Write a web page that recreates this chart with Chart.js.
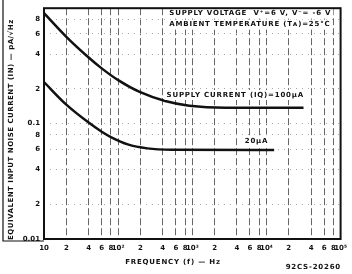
<!DOCTYPE html>
<html>
<head>
<meta charset="utf-8">
<script src="https://cdn.jsdelivr.net/npm/chart.js@4.4.1/dist/chart.umd.min.js"></script>
<style>
  html, body { margin: 0; padding: 0; background: #fff; }
  #wrap { width: 352px; height: 274px; }
</style>
</head>
<body>
<div id="wrap"><canvas id="noiseChart" width="352" height="274"></canvas></div>
<script>
// Data (Hz, pA/sqrt(Hz))
const freq100 = [10, 20, 40, 60, 100, 195, 430, 910, 2800, 31600];
const noise100 = [0.906, 0.565, 0.374, 0.301, 0.238, 0.188, 0.157, 0.143, 0.137, 0.137];
const freq20 = [10, 20, 40, 60, 81, 135, 248, 525, 12700];
const noise20 = [0.229, 0.146, 0.102, 0.085, 0.076, 0.066, 0.061, 0.0594, 0.059];

// Tick values and labels
const xTicks = [10, 20, 40, 60, 80, 100, 200, 400, 600, 800, 1000, 2000, 4000, 6000, 8000,
                10000, 20000, 40000, 60000, 80000, 100000];
const xLabels = ["10", "2", "4", "6", "8", "10²", "2", "4", "6", "8", "10³", "2", "4", "6", "8",
                 "10⁴", "2", "4", "6", "8", "10⁵"];
const yTicks = [0.01, 0.02, 0.04, 0.06, 0.08, 0.1, 0.2, 0.4, 0.6, 0.8, 1];
const yLabels = ["0.01", "2", "4", "6", "8", "0.1", "2", "4", "6", "8", ""];

const FONT = "bold 7px 'DejaVu Sans'";

function toPts(xs, ys) {
    return xs.map((x, i) => ({ x: x, y: ys[i] }));
}

// white box behind a note, then the note
function note(ctx, text, x, y) {
    const w = ctx.measureText(text).width;
    ctx.fillStyle = "#fff";
    ctx.fillRect(x - 2, y - 5, w + 4, 10);
    ctx.fillStyle = "#111";
    ctx.fillText(text, x, y);
}

// Frame, titles and notes drawn on top
const notesPlugin = {
    id: "notes",
    afterDraw(chart) {
        const ctx = chart.ctx;
        const a = chart.chartArea;
        const xs = chart.scales.x, ys = chart.scales.y;
        ctx.save();

        ctx.font = FONT;
        ctx.letterSpacing = "0.8px";
        ctx.textBaseline = "middle";
        ctx.textAlign = "left";
        note(ctx, "SUPPLY VOLTAGE  V⁺=6 V, V⁻= -6 V", xs.getPixelForValue(490), ys.getPixelForValue(0.9));
        note(ctx, "AMBIENT TEMPERATURE (Tᴀ)=25°C", xs.getPixelForValue(490), ys.getPixelForValue(0.72));
        note(ctx, "SUPPLY CURRENT (IQ)=100µA", xs.getPixelForValue(450), ys.getPixelForValue(0.177));
        note(ctx, "20µA", xs.getPixelForValue(5100), ys.getPixelForValue(0.07));

        ctx.strokeStyle = "#111";
        ctx.lineWidth = 2;
        ctx.strokeRect(a.left, a.top, a.right - a.left, a.bottom - a.top);

        // outer bracket of the scanned sheet
        ctx.lineWidth = 1.2;
        ctx.beginPath();
        ctx.moveTo(3, 0);
        ctx.lineTo(3, a.bottom + 2);
        ctx.lineTo(a.left, a.bottom + 2);
        ctx.stroke();

        ctx.fillStyle = "#111";
        ctx.textAlign = "center";
        ctx.fillText("FREQUENCY (f) — Hz", 173, 262);
        ctx.textAlign = "right";
        ctx.fillText("92CS-20260", 341, 267);

        ctx.letterSpacing = "0.5px";
        ctx.translate(11, (a.top + a.bottom) / 2 + 6);
        ctx.rotate(-Math.PI / 2);
        ctx.textAlign = "center";
        ctx.fillText("EQUIVALENT INPUT NOISE CURRENT (IN) — pA/√Hz", 0, 0);
        ctx.restore();
    }
};

new Chart(document.getElementById("noiseChart"), {
    type: "line",
    data: {
        datasets: [
            {
                label: "100uA",
                data: toPts(freq100, noise100),
                borderColor: "#111",
                borderWidth: 2.5,
                pointRadius: 0,
                cubicInterpolationMode: "monotone"
            },
            {
                label: "20uA",
                data: toPts(freq20, noise20),
                borderColor: "#111",
                borderWidth: 2.5,
                pointRadius: 0,
                cubicInterpolationMode: "monotone"
            }
        ]
    },
    options: {
        responsive: false,
        animation: false,
        layout: { padding: { left: 0, top: 5, right: 5, bottom: 0 } },
        plugins: { legend: { display: false }, tooltip: { enabled: false } },
        scales: {
            x: {
                type: "logarithmic",
                min: 10,
                max: 100000,
                afterBuildTicks: (s) => { s.ticks = xTicks.map(v => ({ value: v })); },
                afterFit: (s) => { s.height = 35; },
                ticks: {
                    autoSkip: false,
                    maxRotation: 0,
                    color: "#111",
                    font: { family: "DejaVu Sans", size: 7, weight: "bold" },
                    padding: 5,
                    callback: (v, i) => xLabels[i]
                },
                grid: {
                    color: "#666",
                    lineWidth: 1,
                    drawTicks: false
                },
                border: { display: false, dash: [7, 3] }
            },
            y: {
                type: "logarithmic",
                min: 0.01,
                max: 1,
                afterBuildTicks: (s) => { s.ticks = yTicks.map(v => ({ value: v })); },
                afterFit: (s) => { s.width = 44; },
                ticks: {
                    autoSkip: false,
                    color: "#111",
                    font: { family: "DejaVu Sans", size: 7, weight: "bold" },
                    padding: 4,
                    callback: (v, i) => yLabels[i]
                },
                grid: {
                    color: "#aaa",
                    lineWidth: 1,
                    drawTicks: false
                },
                border: { display: false, dash: [1, 5] }
            }
        }
    },
    plugins: [notesPlugin]
});
</script>
</body>
</html>
